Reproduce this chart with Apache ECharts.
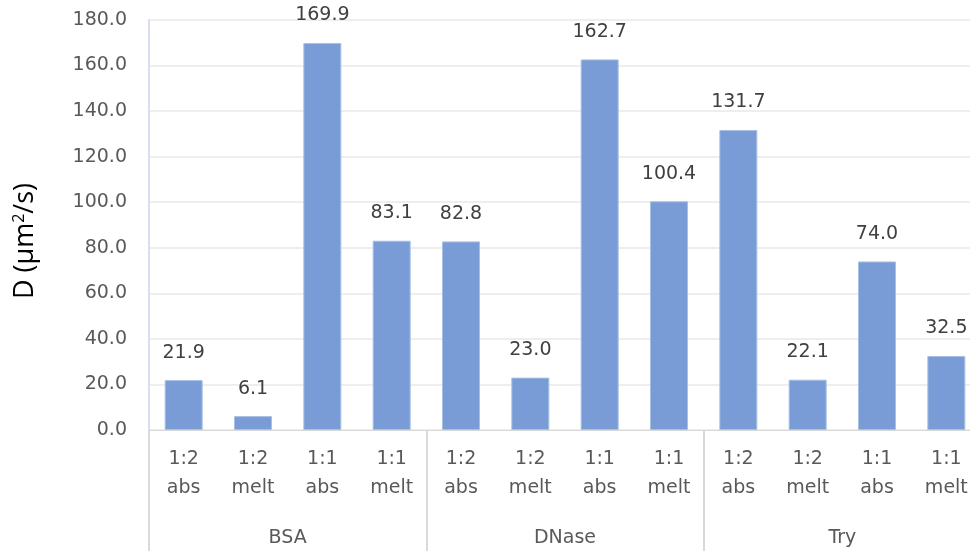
<!DOCTYPE html>
<html>
<head>
<meta charset="utf-8">
<script src="https://cdn.jsdelivr.net/npm/echarts@6/dist/echarts.min.js"></script>
<style>
  html, body { margin: 0; padding: 0; background: #fff; }
  #chart { width: 970px; height: 551px; }
</style>
</head>
<body>
<div id="chart"></div>
<script>
// Sample conditions, grouped by protein
const groups = ['BSA', 'DNase', 'Try'];
const conditions = ['1:2\nabs', '1:2\nmelt', '1:1\nabs', '1:1\nmelt'];
// Diffusion coefficients, µm²/s, one array per protein
const bsaValues = [21.9, 6.1, 169.9, 83.1];
const dnaseValues = [82.8, 23.0, 162.7, 100.4];
const tryValues = [131.7, 22.1, 74.0, 32.5];
const yTicks = [0, 20, 40, 60, 80, 100, 120, 140, 160, 180];

const categories = [];
groups.forEach(() => conditions.forEach(c => categories.push(c)));
const values = [].concat(bsaValues, dnaseValues, tryValues);

const font = '"DejaVu Sans", "Noto Sans", sans-serif';
const nameFont = '"Open Sans", "Noto Sans", sans-serif';
const chart = echarts.init(document.getElementById('chart'));
chart.setOption({
  animation: false,
  grid: { left: 149, width: 832, top: 20, bottom: 121, outerBoundsMode: 'none', containLabel: false },
  xAxis: [
    {
      // condition labels under each bar
      type: 'category',
      data: categories,
      position: 'bottom',
      axisLine: { show: true, lineStyle: { color: '#d9d9d9', width: 1 } },
      axisTick: { show: false },
      splitLine: { show: false },
      axisLabel: {
        color: '#595959', fontFamily: font, fontSize: 19,
        lineHeight: 29, margin: 15, interval: 0
      }
    },
    {
      // protein groups, long ticks act as group separators
      type: 'category',
      data: groups,
      position: 'bottom',
      axisLine: { show: false },
      splitLine: { show: false },
      axisTick: { show: true, length: 125, lineStyle: { color: '#d9d9d9', width: 2 } },
      axisLabel: { color: '#595959', fontFamily: font, fontSize: 19, margin: 99 }
    }
  ],
  yAxis: {
    type: 'value',
    min: yTicks[0],
    max: yTicks[yTicks.length - 1],
    interval: yTicks[1] - yTicks[0],
    name: 'D (µm{sup|2}/s)',
    nameLocation: 'middle',
    nameGap: 110,
    nameTextStyle: {
      color: '#000', fontFamily: nameFont, fontSize: 27,
      padding: [0, 32, 0, 0],
      rich: {
        sup: { fontFamily: nameFont, fontSize: 16, color: '#000', verticalAlign: 'top', padding: [0, 0, 12, 0] }
      }
    },
    axisLine: { show: true, lineStyle: { color: '#d6deef', width: 2 } },
    axisTick: { show: false },
    axisLabel: {
      color: '#595959', fontFamily: font, fontSize: 19, margin: 22,
      formatter: v => v.toFixed(1)
    },
    splitLine: { lineStyle: { color: '#eeeeee', width: 2 } }
  },
  series: [{
    type: 'bar',
    xAxisIndex: 0,
    data: values,
    barWidth: 38,
    itemStyle: { color: '#7a9cd6', borderColor: '#a9c0e6', borderWidth: 1 },
    label: {
      show: true, position: 'top', distance: 18,
      color: '#404040', fontFamily: font, fontSize: 19,
      formatter: p => p.value.toFixed(1)
    }
  }]
});
</script>
</body>
</html>
